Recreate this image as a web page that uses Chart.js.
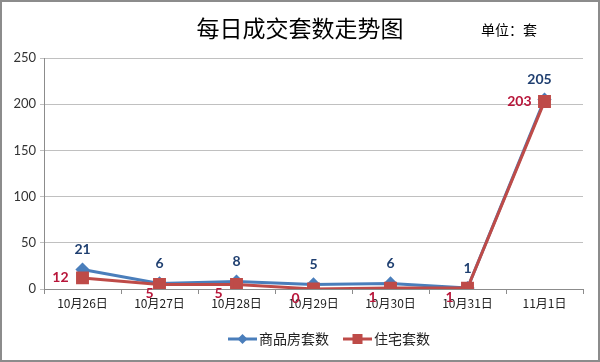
<!DOCTYPE html>
<html>
<head>
<meta charset="utf-8">
<script src="https://cdn.jsdelivr.net/npm/chart.js@4.4.0/dist/chart.umd.min.js"></script>
<style>
  body { margin: 0; background: #fff; }
  #wrap { position: relative; width: 600px; height: 362px; }
  #frame { position: absolute; left: 0; top: 0; width: 596px; height: 358px; border: 2px solid #8c8c8c; pointer-events: none; }
</style>
</head>
<body>
<div id="wrap">
  <canvas id="trendChart" width="600" height="362"></canvas>
  <div id="frame"></div>
</div>
<script>
// Chart data
const labels = ['10月26日', '10月27日', '10月28日', '10月29日', '10月30日', '10月31日', '11月1日'];
const commercialData = [21, 6, 8, 5, 6, 1, 205];
const residentialData = [12, 5, 5, 0, 1, 1, 203];
const yTicks = [0, 50, 100, 150, 200, 250];

const blue = '#4a7ebb';
const red = '#be4b48';

// where each red label sits relative to its point
const redLabelPos = ['left', 'belowLeft', 'belowLeft', 'belowLeft', 'belowLeft', 'belowLeft', 'left'];

const headerPlugin = {
    id: 'header',
    afterDraw(chart) {
        const c = chart.ctx;
        c.save();
        c.fillStyle = '#000';
        c.textBaseline = 'middle';
        c.textAlign = 'center';
        c.font = '23px "Noto Sans CJK SC"';
        c.fillText('每日成交套数走势图', 300, 28);
        c.textAlign = 'left';
        c.font = '14px "Noto Sans CJK SC"';
        c.fillText('单位：套', 481, 30);
        c.restore();
    }
};

// legend drawn by hand, Excel style: line with marker, offset to the right
const legendPlugin = {
    id: 'sideLegend',
    afterDraw(chart) {
        const c = chart.ctx;
        const y = 339;
        let x = 228;
        c.save();
        c.font = '14px "Noto Sans CJK SC"';
        c.textBaseline = 'middle';
        c.textAlign = 'left';
        chart.data.datasets.forEach((ds, i) => {
            c.strokeStyle = ds.borderColor;
            c.fillStyle = ds.borderColor;
            c.lineWidth = 3;
            c.beginPath(); c.moveTo(x, y); c.lineTo(x + 29, y); c.stroke();
            const mx = x + 14.5;
            if (i === 0) {
                c.beginPath(); c.moveTo(mx, y - 5); c.lineTo(mx + 5, y); c.lineTo(mx, y + 5); c.lineTo(mx - 5, y); c.closePath(); c.fill();
            } else {
                c.fillRect(mx - 5, y - 5, 10, 10);
            }
            c.fillStyle = '#222';
            c.fillText(ds.label, x + 31, y);
            x += 31 + c.measureText(ds.label).width + 14;
        });
        c.restore();
    }
};

const valueLabels = {
    id: 'valueLabels',
    afterDatasetsDraw(chart) {
        const c = chart.ctx;
        c.save();
        c.font = 'bold 14px Lato';
        c.textBaseline = 'middle';
        chart.getDatasetMeta(0).data.forEach((pt, i) => {
            c.fillStyle = '#1f3f70';
            c.textAlign = 'center';
            c.fillText(commercialData[i], pt.x - (i === 6 ? 5 : 0), pt.y - 20);
        });
        chart.getDatasetMeta(1).data.forEach((pt, i) => {
            c.fillStyle = '#b8163a';
            c.textAlign = 'right';
            if (redLabelPos[i] === 'left') {
                c.fillText(residentialData[i], pt.x - (i === 6 ? 13 : 14), pt.y);
            } else {
                c.fillText(residentialData[i], pt.x - (i === 1 ? 6 : 14), pt.y + 9);
            }
        });
        c.restore();
    }
};

const ctx = document.getElementById('trendChart').getContext('2d');
new Chart(ctx, {
    type: 'line',
    data: {
        labels: labels,
        datasets: [
            {
                label: '商品房套数',
                data: commercialData,
                borderColor: blue,
                backgroundColor: blue,
                borderWidth: 3,
                pointStyle: 'rectRot',
                pointRadius: 5,
                pointHoverRadius: 5,
                tension: 0,
                order: 1
            },
            {
                label: '住宅套数',
                data: residentialData,
                borderColor: red,
                backgroundColor: red,
                borderWidth: 3,
                pointStyle: 'rect',
                pointRadius: 7,
                pointHoverRadius: 7,
                tension: 0,
                order: 0
            }
        ]
    },
    options: {
        responsive: false,
        animation: false,
        layout: { padding: { left: 0, right: 17, top: 58, bottom: 51 } },
        plugins: {
            title: { display: false },
            tooltip: { enabled: false },
            legend: { display: false }
        },
        scales: {
            x: {
                offset: true,
                afterFit(scale) { scale.height = 22; },
                grid: { offset: true, drawOnChartArea: false, tickLength: 5, color: '#8c8c8c' },
                border: { color: '#8c8c8c' },
                ticks: { color: '#222', font: { family: '"Noto Sans CJK SC"', size: 12 }, padding: 2, maxRotation: 0 }
            },
            y: {
                min: 0,
                max: 250,
                afterFit(scale) { scale.width = 44; },
                afterBuildTicks(scale) { scale.ticks = yTicks.map(v => ({ value: v })); },
                grid: { color: '#c0c0c0', tickLength: 4 },
                border: { color: '#8c8c8c' },
                ticks: { color: '#333', font: { family: 'Lato', size: 13 }, padding: 4 }
            }
        }
    },
    plugins: [headerPlugin, valueLabels, legendPlugin]
});
</script>
</body>
</html>
